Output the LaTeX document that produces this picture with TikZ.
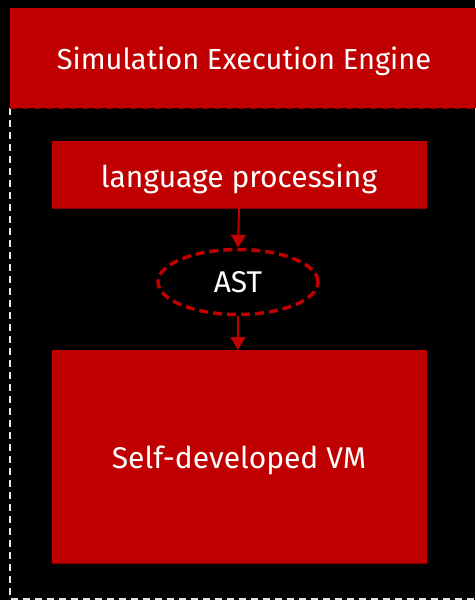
\documentclass[tikz,border=0pt]{standalone}
\usepackage{fontspec}
\setmainfont{Fira Sans}
\usetikzlibrary{arrows.meta,shapes.geometric}
\definecolor{dred}{RGB}{192,0,0}
\definecolor{sred}{RGB}{130,0,0}
\begin{document}
\begin{tikzpicture}[x=1pt,y=-1pt,
  conn/.style={draw=dred,line width=2pt,-{Triangle[width=15pt,length=13pt]}},
  lbl/.style={text=white,font=\fontsize{30}{34}\selectfont}]
\useasboundingbox (0,0) rectangle (475,600);
\fill[black] (0,0) rectangle (475,600);
% outer dashed container
\draw[white!90!black,line width=1.5pt,dash pattern=on 7pt off 5pt] (10,108) -- (10,599) -- (480,599);
% header
\fill[dred] (10,8) rectangle (480,108);
\draw[dred!75!black,line width=0.8pt,dash pattern=on 7pt off 5pt] (10,108) -- (480,108);
\node[lbl,font=\fontsize{29}{34}\selectfont] (title) at (244,61) {Simulation Execution Engine};
% language processing
\fill[dred] (52,141) rectangle (427,208);
\draw[sred,line width=1pt] (52,208) -- (427,208);
\coordinate (lpb) at (239,208);
\node[lbl] (lp) at (239,179) {language processing};
% AST
\node[ellipse,draw=dred,line width=3.5pt,dash pattern=on 9pt off 5pt,fill=black,
  minimum width=160pt,minimum height=65pt,inner sep=0pt,text=white,
  font=\fontsize{30}{34}\selectfont] (ast) at (238,282) {AST};
% VM
\fill[dred] (52,350) rectangle (427,563);
\draw[sred,line width=1pt] (52,563) -- (427,563);
\coordinate (vmt) at (238,350);
\node[lbl] (vm) at (239,460) {Self-developed VM};
% connectors
\draw[conn] (lpb) -- (ast.north);
\draw[conn] (ast.south) -- (vmt);
\end{tikzpicture}
\end{document}
